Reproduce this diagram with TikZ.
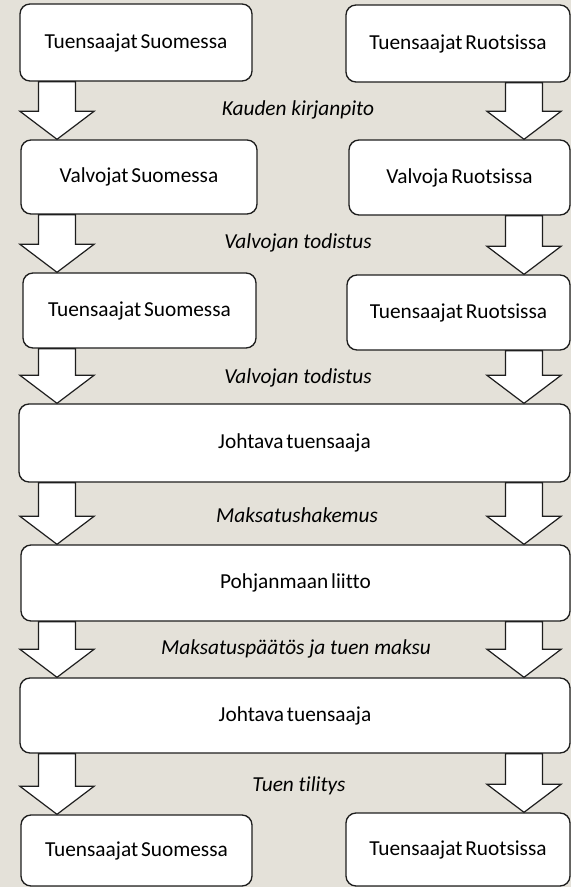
\documentclass[tikz,border=0pt]{standalone}
\usepackage{fontspec}
\setmainfont{Carlito}[Ligatures=CommonOff]
\newfontfamily\boxfont{Carlito}[Ligatures=CommonOff,WordSpace=0.6]
\usetikzlibrary{calc}
\definecolor{bgc}{RGB}{228,225,217}
\definecolor{lnc}{RGB}{30,30,30}
\tikzset{
  box/.style={draw=lnc, line width=1pt, fill=white, rounded corners=7.5pt,
    inner sep=0pt, font=\boxfont\fontsize{16}{19}\selectfont},
  lbl/.style={font=\fontsize{16}{19}\selectfont\itshape, inner sep=0pt},
  barrow/.style={draw=lnc, line width=0.9pt, fill=white, line join=miter}
}
% #1 = x centre (px), #2 = source node, #3 = target node
\newcommand\blockarrow[3]{%
  \path[barrow] let \p1=(#2.south), \p2=(#3.north) in
    ({#1*0.75pt-13.9pt},\y1) -- ({#1*0.75pt-13.9pt},{\y2+21pt}) --
    ({#1*0.75pt-27.75pt},{\y2+21pt}) -- ({#1*0.75pt},\y2) --
    ({#1*0.75pt+27.75pt},{\y2+21pt}) -- ({#1*0.75pt+13.9pt},{\y2+21pt}) --
    ({#1*0.75pt+13.9pt},\y1) -- cycle;}
\begin{document}
\begin{tikzpicture}[x=0.75pt,y=-0.75pt]
\fill[bgc] (0,0) rectangle (571,887);
\useasboundingbox (0,0) rectangle (571,887);
% boxes
\node[box, minimum width=174pt, minimum height=57.75pt] (a1) at (136,42.5) {Tuensaajat Suomessa};
\node[box, minimum width=168pt, minimum height=57.75pt] (a2) at (458,43.5) {Tuensaajat Ruotsissa};
\node[box, minimum width=177pt, minimum height=55.5pt] (b1) at (139,177) {Valvojat Suomessa};
\node[box, minimum width=165.75pt, minimum height=56.25pt] (b2) at (459.5,177.5) {Valvoja Ruotsissa};
\node[box, minimum width=174.75pt, minimum height=56.25pt] (c1) at (139.5,310.5) {Tuensaajat Suomessa};
\node[box, minimum width=167.25pt, minimum height=56.25pt] (c2) at (458.5,312.5) {Tuensaajat Ruotsissa};
\node[box, minimum width=413.25pt, minimum height=58.5pt] (d) at (294.5,443) {Johtava tuensaaja};
\node[box, minimum width=411.75pt, minimum height=57pt] (e) at (295.5,583) {Pohjanmaan liitto};
\node[box, minimum width=412.5pt, minimum height=56.25pt] (f) at (295,715.5) {Johtava tuensaaja};
\node[box, minimum width=173.25pt, minimum height=53.25pt] (g1) at (136.5,850.5) {Tuensaajat Suomessa};
\node[box, minimum width=168pt, minimum height=54.75pt] (g2) at (458,849.5) {Tuensaajat Ruotsissa};
% block arrows
\blockarrow{57}{a1}{b1}
\blockarrow{524}{a2}{b2}
\blockarrow{57}{b1}{c1}
\blockarrow{524}{b2}{c2}
\blockarrow{57}{c1}{d}
\blockarrow{524}{c2}{d}
\blockarrow{57}{d}{e}
\blockarrow{524}{d}{e}
\blockarrow{57}{e}{f}
\blockarrow{524}{e}{f}
\blockarrow{57}{f}{g1}
\blockarrow{524}{f}{g2}
% labels
\node[lbl] (l1) at (298,110) {Kauden kirjanpito};
\node[lbl] (l2) at (298,243) {Valvojan todistus};
\node[lbl] (l3) at (298,378) {Valvojan todistus};
\node[lbl] (l4) at (297,515) {Maksatushakemus};
\node[lbl] (l5) at (296,649) {Maksatuspäätös ja tuen maksu};
\node[lbl] (l6) at (299,786) {Tuen tilitys};
\end{tikzpicture}
\end{document}
